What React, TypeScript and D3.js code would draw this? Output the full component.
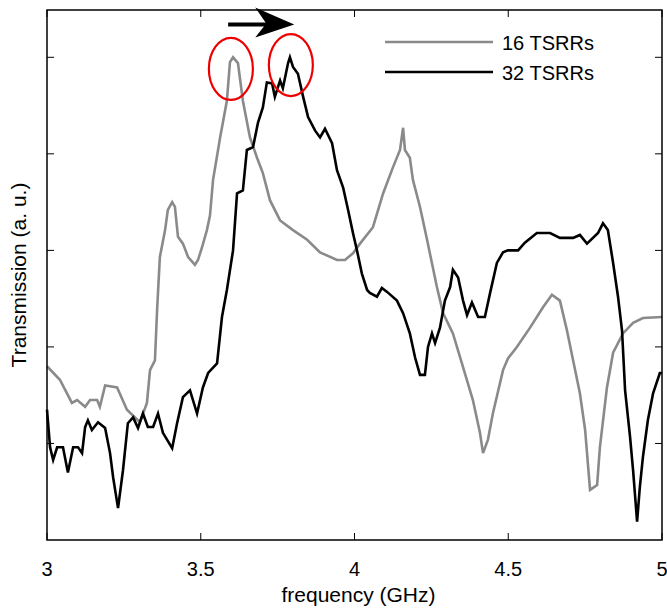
import React from 'react';
import * as d3 from 'd3';

// 16 TSRRs (grey trace)
const freq16 = [3.0, 3.042, 3.081, 3.098, 3.124, 3.14, 3.163, 3.172, 3.189, 3.228, 3.26, 3.302, 3.325, 3.335, 3.351, 3.358, 3.367, 3.384, 3.393, 3.407, 3.416, 3.426, 3.442, 3.459, 3.481, 3.491, 3.504, 3.52, 3.53, 3.54, 3.563, 3.585, 3.595, 3.605, 3.621, 3.637, 3.66, 3.683, 3.702, 3.725, 3.758, 3.8, 3.846, 3.888, 3.943, 3.969, 3.995, 4.018, 4.06, 4.093, 4.125, 4.148, 4.158, 4.164, 4.18, 4.19, 4.213, 4.236, 4.268, 4.288, 4.32, 4.353, 4.385, 4.408, 4.418, 4.434, 4.45, 4.483, 4.499, 4.528, 4.571, 4.613, 4.642, 4.668, 4.691, 4.711, 4.733, 4.75, 4.766, 4.789, 4.798, 4.821, 4.841, 4.873, 4.906, 4.938, 5.0];
const trans16 = [1.8, 1.66, 1.42, 1.45, 1.38, 1.45, 1.45, 1.38, 1.6, 1.58, 1.35, 1.22, 1.42, 1.76, 1.86, 2.38, 2.93, 3.21, 3.42, 3.5, 3.45, 3.14, 3.07, 2.93, 2.85, 2.9, 3.03, 3.21, 3.36, 3.73, 4.17, 4.55, 4.95, 5.0, 4.94, 4.55, 4.17, 3.96, 3.8, 3.52, 3.31, 3.21, 3.11, 2.98, 2.9, 2.9, 2.97, 3.07, 3.24, 3.59, 3.86, 4.04, 4.27, 4.04, 3.96, 3.73, 3.45, 3.11, 2.62, 2.35, 2.14, 1.79, 1.45, 1.11, 0.9, 1.04, 1.31, 1.76, 1.88, 2.0, 2.2, 2.41, 2.54, 2.48, 2.17, 1.86, 1.52, 1.14, 0.52, 0.57, 0.96, 1.58, 1.94, 2.14, 2.25, 2.3, 2.31];

// 32 TSRRs (black trace)
const freq32 = [3.0, 3.01, 3.02, 3.033, 3.052, 3.068, 3.085, 3.101, 3.114, 3.124, 3.133, 3.146, 3.166, 3.189, 3.205, 3.215, 3.231, 3.247, 3.263, 3.28, 3.296, 3.312, 3.328, 3.345, 3.361, 3.377, 3.407, 3.423, 3.442, 3.465, 3.488, 3.507, 3.524, 3.553, 3.569, 3.585, 3.605, 3.618, 3.637, 3.65, 3.67, 3.686, 3.702, 3.715, 3.732, 3.741, 3.758, 3.767, 3.784, 3.79, 3.8, 3.816, 3.833, 3.849, 3.872, 3.888, 3.904, 3.927, 3.943, 3.963, 3.979, 3.995, 4.008, 4.024, 4.041, 4.05, 4.073, 4.089, 4.106, 4.138, 4.158, 4.18, 4.197, 4.213, 4.229, 4.239, 4.252, 4.262, 4.278, 4.294, 4.311, 4.32, 4.337, 4.353, 4.366, 4.382, 4.402, 4.424, 4.441, 4.463, 4.483, 4.499, 4.532, 4.554, 4.593, 4.636, 4.668, 4.711, 4.733, 4.756, 4.792, 4.808, 4.824, 4.841, 4.857, 4.87, 4.88, 4.896, 4.906, 4.919, 4.928, 4.938, 4.954, 4.971, 4.993, 5.0];
const trans32 = [1.35, 0.96, 0.83, 0.96, 0.96, 0.7, 0.96, 0.96, 0.9, 1.17, 1.24, 1.14, 1.22, 1.16, 0.9, 0.65, 0.33, 0.72, 1.21, 1.27, 1.16, 1.31, 1.17, 1.17, 1.31, 1.11, 0.95, 1.21, 1.48, 1.55, 1.31, 1.58, 1.73, 1.83, 2.31, 2.59, 3.0, 3.59, 3.62, 4.04, 4.07, 4.32, 4.48, 4.74, 4.73, 4.59, 4.76, 4.68, 4.94, 5.0, 4.9, 4.83, 4.59, 4.38, 4.24, 4.17, 4.26, 4.11, 3.83, 3.65, 3.42, 3.18, 3.0, 2.76, 2.59, 2.56, 2.52, 2.61, 2.57, 2.48, 2.35, 2.14, 1.89, 1.71, 1.71, 2.0, 2.14, 2.04, 2.2, 2.48, 2.62, 2.8, 2.72, 2.48, 2.33, 2.46, 2.31, 2.31, 2.56, 2.87, 2.98, 3.0, 3.0, 3.08, 3.18, 3.18, 3.13, 3.13, 3.16, 3.07, 3.18, 3.28, 3.21, 2.87, 2.52, 2.17, 1.55, 1.07, 0.72, 0.19, 0.55, 0.86, 1.24, 1.52, 1.73, 1.73];

const xTicks = [3, 3.5, 4, 4.5, 5];
const xTickLabels = ['3', '3.5', '4', '4.5', '5'];
const yTicks = [1, 2, 3, 4, 5];
const seriesNames = ['16 TSRRs', '32 TSRRs'];

// circled peaks and the shift arrow (frequency, transmission)
const peakFreqs = [3.598, 3.793];
const peakTrans = [4.88, 4.92];
const arrowFreqs = [3.589, 3.804];
const arrowTrans = 5.34;

const W = 667;
const H = 613;
const margin = { top: 10, right: 5, bottom: 73, left: 47 };
const FONT = '"Liberation Sans", Arial, Helvetica, sans-serif';

export default function App() {
  const x = d3.scaleLinear().domain([3, 5]).range([margin.left, W - margin.right]);
  const y = d3.scaleLinear().domain([0, 5.49]).range([H - margin.bottom, margin.top]);

  const line = d3.line<[number, number]>()
    .x(d => x(d[0]))
    .y(d => y(d[1]));

  const grey = line(freq16.map((f, i) => [f, trans16[i]] as [number, number])) || '';
  const black = line(freq32.map((f, i) => [f, trans32[i]] as [number, number])) || '';

  const x0 = margin.left;
  const x1 = W - margin.right;
  const y0 = margin.top;
  const y1 = H - margin.bottom;
  const tk = 7;

  const ax0 = x(arrowFreqs[0]);
  const ax1 = x(arrowFreqs[1]);
  const ay = y(arrowTrans);

  const legendX = 385;
  const legendY = [42, 72];

  return (
    <svg width={W} height={H} style={{ position: 'absolute', left: 0, top: 0, background: '#fff' }}
      fontFamily={FONT}>
      <rect width={W} height={H} fill="#fff" />

      {/* curves */}
      <path d={grey} fill="none" stroke="#8a8a8a" strokeWidth={2.6} strokeLinejoin="miter" />
      <path d={black} fill="none" stroke="#000" strokeWidth={2.6} strokeLinejoin="miter" />

      {/* frame */}
      <rect x={x0} y={y0} width={x1 - x0} height={y1 - y0} fill="none" stroke="#000" strokeWidth={1.5} />

      {/* x ticks (bottom & top, inward) */}
      {xTicks.map((t, i) => (
        <g key={'xt' + i}>
          <line x1={x(t)} x2={x(t)} y1={y1} y2={y1 - tk} stroke="#000" strokeWidth={1} />
          <line x1={x(t)} x2={x(t)} y1={y0} y2={y0 + tk} stroke="#000" strokeWidth={1} />
          <text x={x(t)} y={576} textAnchor="middle" fontSize={20} fill="#000">{xTickLabels[i]}</text>
        </g>
      ))}

      {/* y ticks (left & right, inward, unlabeled) */}
      {yTicks.map((t, i) => (
        <g key={'yt' + i}>
          <line x1={x0} x2={x0 + tk} y1={y(t)} y2={y(t)} stroke="#000" strokeWidth={1} />
          <line x1={x1} x2={x1 - tk} y1={y(t)} y2={y(t)} stroke="#000" strokeWidth={1} />
        </g>
      ))}

      {/* axis labels */}
      <text x={(x0 + x1) / 2 + 4} y={602} textAnchor="middle" fontSize={21} fill="#000">frequency (GHz)</text>
      <text transform={`translate(26,${(y0 + y1) / 2}) rotate(-90)`} textAnchor="middle" fontSize={21} fill="#000">
        Transmission (a. u.)
      </text>

      {/* legend */}
      <line x1={legendX} x2={legendX + 108} y1={legendY[0]} y2={legendY[0]} stroke="#8a8a8a" strokeWidth={2.6} />
      <text x={502} y={legendY[0] + 8} fontSize={20} fill="#000">{seriesNames[0]}</text>
      <line x1={legendX} x2={legendX + 108} y1={legendY[1]} y2={legendY[1]} stroke="#000" strokeWidth={2.6} />
      <text x={502} y={legendY[1] + 8} fontSize={20} fill="#000">{seriesNames[1]}</text>

      {/* red circles around peaks */}
      {peakFreqs.map((f, i) => (
        <ellipse key={'pk' + i} cx={x(f)} cy={y(peakTrans[i])} rx={22} ry={31}
          fill="none" stroke="#ee0000" strokeWidth={2.2} />
      ))}

      {/* shift arrow */}
      <line x1={ax0} x2={ax1 - 26} y1={ay} y2={ay} stroke="#000" strokeWidth={4} />
      <path d={`M${ax1},${ay} L${ax1 - 39},${ay - 17} L${ax1 - 28},${ay - 1} L${ax1 - 39},${ay + 13} Z`} fill="#000" />
    </svg>
  );
}
